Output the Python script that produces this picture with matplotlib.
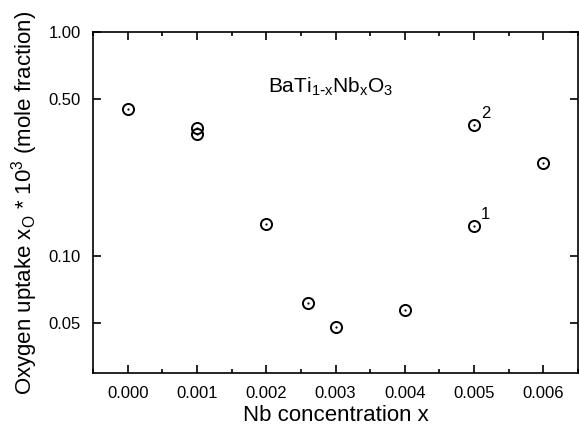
import matplotlib
matplotlib.use("Agg")
import matplotlib.pyplot as plt
from matplotlib.ticker import FixedLocator, FormatStrFormatter, MultipleLocator, NullLocator

plt.rcParams['font.family'] = ['Liberation Sans', 'DejaVu Sans']

# Nb concentration vs oxygen uptake
nb_x = [0.000, 0.001, 0.001, 0.002, 0.0026, 0.003, 0.004, 0.005, 0.005, 0.006]
uptake = [0.455, 0.374, 0.352, 0.139, 0.0618, 0.0479, 0.0575, 0.386, 0.136, 0.259]
labels = ["", "", "", "", "", "", "", "2", "1", ""]

y_ticks = [0.05, 0.10, 0.50, 1.00]
x_ticks = [0.000, 0.001, 0.002, 0.003, 0.004, 0.005, 0.006]

fig = plt.figure(figsize=(5.79, 4.28), dpi=100)
ax = fig.add_axes([93 / 579, 1 - 373 / 428, 485 / 579, 341 / 428])

# open circles with a dot in the middle
ax.plot(nb_x, uptake, linestyle='none', marker='o', markersize=8,
        markerfacecolor='none', markeredgecolor='black', markeredgewidth=1.4)
ax.plot(nb_x, uptake, linestyle='none', marker='o', markersize=1.6,
        markerfacecolor='black', markeredgecolor='black', markeredgewidth=0)

for xv, yv, lab in zip(nb_x, uptake, labels):
    if lab:
        ax.annotate(lab, (xv, yv), xytext=(5, 5), textcoords='offset points',
                    fontsize=12)

ax.set_yscale('log')
ax.set_xlim(-0.0005, 0.0065)
ax.set_ylim(0.03, 1.0)

ax.xaxis.set_major_locator(FixedLocator(x_ticks))
ax.xaxis.set_minor_locator(MultipleLocator(0.0005))
ax.xaxis.set_major_formatter(FormatStrFormatter('%.3f'))
ax.yaxis.set_major_locator(FixedLocator(y_ticks))
ax.yaxis.set_minor_locator(NullLocator())
ax.yaxis.set_major_formatter(FormatStrFormatter('%.2f'))

ax.tick_params(which='both', direction='in', top=True, right=True,
               labelsize=12, width=1.2)
ax.tick_params(which='major', length=6, pad=9)
ax.tick_params(which='minor', length=3)
for sp in ax.spines.values():
    sp.set_linewidth(1.2)

ax.set_xlabel('Nb concentration x', fontsize=16, labelpad=3)
ax.set_ylabel(r'Oxygen uptake x$_\mathregular{O}$ * 10$^\mathregular{3}$ (mole fraction)',
              fontsize=16, labelpad=6)

ax.text(0.00203, 0.54, r'BaTi$_\mathregular{1\text{-}x}$Nb$_\mathregular{x}$O$_\mathregular{3}$',
        fontsize=15)

fig.savefig('out.png', dpi=100)
